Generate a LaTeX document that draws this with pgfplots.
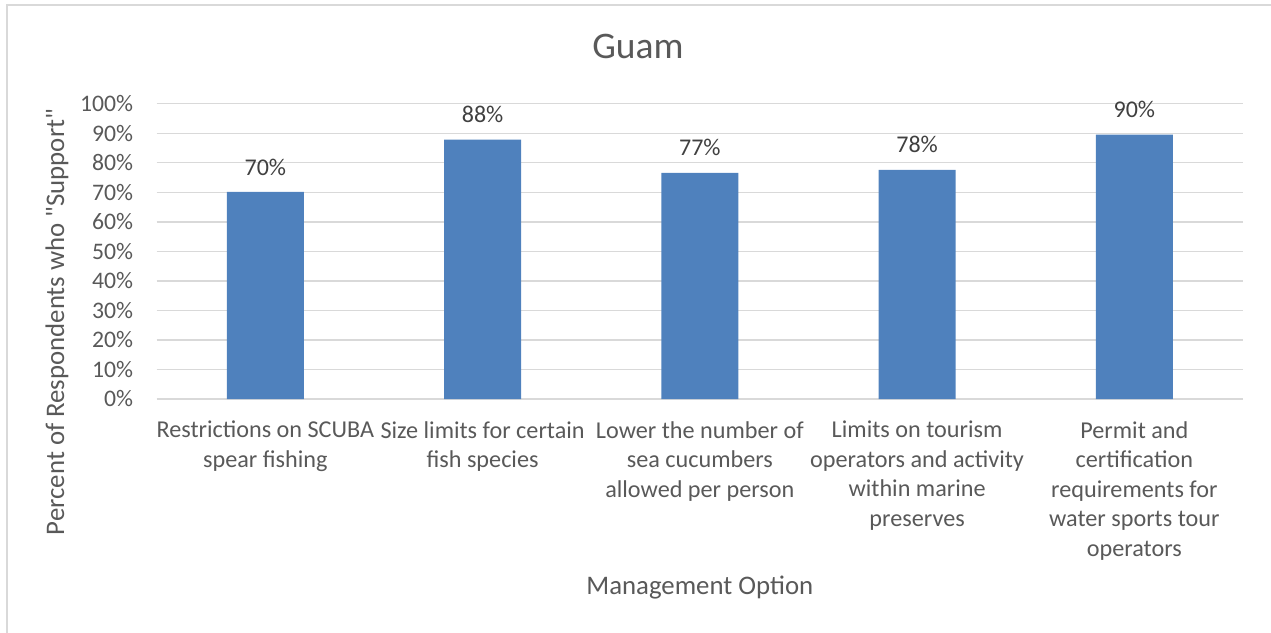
\documentclass[border=0pt]{standalone}
\usepackage{pgfplots}
\pgfplotsset{compat=1.18}
\usepackage{fontspec}
\setmainfont{Carlito}
\definecolor{barblue}{HTML}{4F81BD}
\definecolor{txtgray}{HTML}{595959}
\definecolor{lblgray}{HTML}{404040}
\definecolor{gridgray}{HTML}{D9D9D9}
\begin{document}
\begin{tikzpicture}[x=1pt,y=1pt]
\path[use as bounding box] (0,0) rectangle (1271,632);
\draw[gridgray, line width=1.5pt] (7,-10) -- (7,627) -- (1290,627);
\begin{axis}[
  at={(156.7pt,233pt)}, anchor=south west,
  scale only axis, width=1086.3pt, height=295.3pt,
  xmin=-0.5, xmax=4.5, ymin=0, ymax=100,
  axis line style={draw=none},
  major tick length=0pt,
  ytick={0,10,...,100},
  yticklabel={\pgfmathprintnumber{\tick}\%},
  /pgf/number format/assume math mode=true,
  ymajorgrids, grid style={gridgray, line width=1.4pt},
  yticklabel style={font=\fontsize{23.7}{28}\selectfont, text=txtgray, anchor=east, inner sep=0pt, xshift=-23.5pt},
  xtick={0,1,2,3,4},
  xticklabels={
    {Restrictions on SCUBA\\spear fishing},
    {Size limits for certain\\fish species},
    {Lower the number of\\sea cucumbers\\allowed per person},
    {Limits on tourism\\operators and activity\\within marine\\preserves},
    {Permit and\\certification\\requirements for\\water sports tour\\operators}},
  xticklabel style={font=\fontsize{24.2}{29.5}\selectfont, text=txtgray, align=center, anchor=north, inner sep=0pt, yshift=-22pt},
  ybar, bar width=77pt,
  nodes near coords={\pgfmathprintnumber[fixed,precision=0]{\pgfplotspointmeta}\%},
  every node near coord/.append style={font=\fontsize{24}{28}\selectfont, text=lblgray, anchor=center, yshift=25pt},
  title={Guam},
  title style={at={(rel axis cs:0.443,1.172)}, anchor=center, yshift=0pt, font=\fontsize{37.5}{44}\selectfont, text=txtgray},
  xlabel={Management Option},
  xlabel style={at={(rel axis cs:0.5,-0.637)}, anchor=center, font=\fontsize{26.8}{32}\selectfont, text=txtgray},
  ylabel={Percent of Respondents who \textquotedbl Support\textquotedbl},
  ylabel style={at={(rel axis cs:-0.0918,0.261)}, anchor=center, rotate=0, font=\fontsize{26.8}{32}\selectfont, text=txtgray},
  clip=false,
]
\addplot[fill=barblue, draw=none] coordinates {(0,70.1) (1,87.8) (2,76.6) (3,77.6) (4,89.5)};
\end{axis}
\end{tikzpicture}
\end{document}
